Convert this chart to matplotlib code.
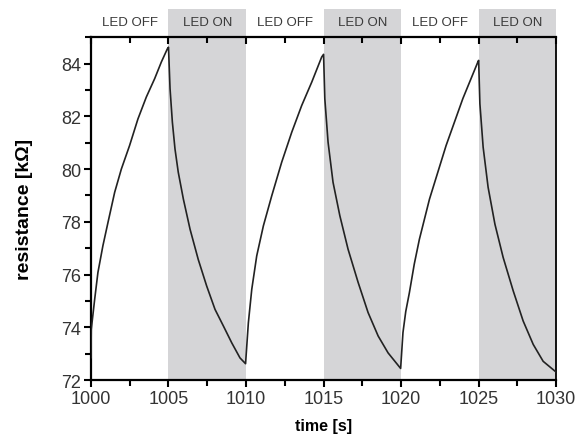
import numpy as np
import matplotlib.pyplot as plt
from matplotlib.ticker import MultipleLocator

plt.rcParams['font.family'] = ['Liberation Sans', 'DejaVu Sans']

# resistance trace, one piece per LED period
t_off1 = [1000.0, 1000.02, 1000.24, 1000.45, 1000.77, 1001.10, 1001.53, 1001.96,
          1002.49, 1003.03, 1003.57, 1004.11, 1004.54, 1004.92, 1005.0]
r_off1 = [72.85, 73.92, 75.06, 76.08, 77.09, 77.98, 79.12, 80.00,
          80.89, 81.90, 82.73, 83.43, 84.06, 84.55, 84.62]
t_on1 = [1005.10, 1005.25, 1005.42, 1005.63, 1005.96, 1006.39, 1006.92, 1007.46,
         1008.0, 1008.54, 1009.08, 1009.61, 1009.97]
r_on1 = [83.05, 81.78, 80.76, 79.88, 78.86, 77.72, 76.57, 75.57,
         74.68, 74.05, 73.41, 72.84, 72.62]
t_off2 = [1010.15, 1010.37, 1010.69, 1011.12, 1011.66, 1012.30, 1012.95,
          1013.59, 1014.24, 1014.88, 1015.0]
r_off2 = [74.17, 75.44, 76.71, 77.85, 78.99, 80.26, 81.40,
          82.41, 83.30, 84.25, 84.35]
t_on2 = [1015.08, 1015.29, 1015.61, 1016.05, 1016.58, 1017.23, 1017.87,
         1018.52, 1019.16, 1019.97]
r_on2 = [82.67, 81.02, 79.50, 78.23, 76.96, 75.70, 74.56, 73.67, 73.03, 72.44]
t_off3 = [1020.12, 1020.30, 1020.53, 1020.85, 1021.18, 1021.83, 1022.9,
          1023.98, 1024.95, 1025.0]
r_off3 = [73.8, 74.6, 75.3, 76.4, 77.34, 78.86, 80.89, 82.67, 84.06, 84.12]
t_on3 = [1025.08, 1025.29, 1025.61, 1026.05, 1026.58, 1027.23, 1027.87,
         1028.52, 1029.16, 1030.0]
r_on3 = [82.48, 80.83, 79.31, 77.91, 76.65, 75.38, 74.24, 73.35, 72.71, 72.30]

time = np.concatenate([t_off1, t_on1, t_off2, t_on2, t_off3, t_on3])
resistance = np.concatenate([r_off1, r_on1, r_off2, r_on2, r_off3, r_on3])

# LED periods
period_edges = [1000, 1005, 1010, 1015, 1020, 1025, 1030]
period_labels = ['LED OFF', 'LED ON', 'LED OFF', 'LED ON', 'LED OFF', 'LED ON']

fig = plt.figure(figsize=(5.83, 4.39), dpi=100)
ax = fig.add_axes([0.156, 0.132, 0.798, 0.781])

for i, lab in enumerate(period_labels):
    a, b = period_edges[i], period_edges[i + 1]
    if lab == 'LED ON':
        ax.axvspan(a, b, ymin=0, ymax=1.082, color='#d5d5d7', lw=0,
                   clip_on=False, zorder=0)
    ax.text((a + b) / 2, 1.044, lab, transform=ax.get_xaxis_transform(),
            ha='center', va='center', fontsize=9.5, color='#3a3a3a')

ax.plot(time, resistance, color='#222222', lw=1.2, zorder=3)

ax.set_xlim(1000, 1030)
ax.set_ylim(72, 85)
ax.xaxis.set_major_locator(MultipleLocator(5))
ax.xaxis.set_minor_locator(MultipleLocator(2.5))
ax.yaxis.set_major_locator(MultipleLocator(2))
ax.yaxis.set_minor_locator(MultipleLocator(1))

ax.tick_params(axis='x', which='both', top=True, direction='out', width=1.5,
               labelsize=13, labelcolor='#333333', pad=2)
ax.tick_params(axis='x', which='major', length=5)
ax.tick_params(axis='x', which='minor', length=4)
ax.tick_params(axis='y', which='major', length=5, width=1.5, direction='out',
               labelsize=13, labelcolor='#333333', pad=2)
ax.tick_params(axis='y', which='minor', length=4, width=1.5, direction='out')
# top ticks point inward
for tk in ax.xaxis.get_major_ticks() + ax.xaxis.get_minor_ticks():
    tk.tick2line.set_marker(3)

for side in ['left', 'bottom', 'top']:
    ax.spines[side].set_linewidth(1.6)
ax.spines['right'].set_linewidth(1.3)

ax.set_xlabel('time [s]', fontsize=11.5, fontweight='bold', labelpad=8)
ax.set_ylabel('resistance [k\u03a9]', fontsize=14, fontweight='bold', labelpad=20)

fig.savefig('out.png', dpi=100)
